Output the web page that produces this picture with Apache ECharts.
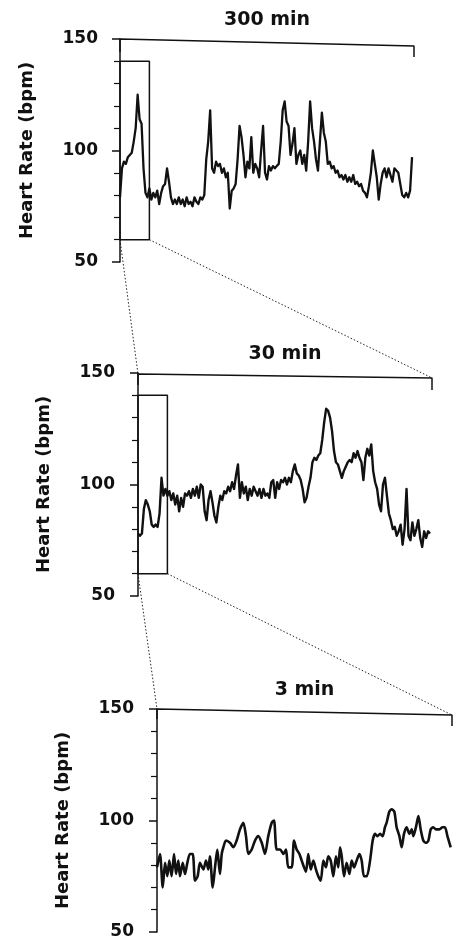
<!DOCTYPE html>
<html><head><meta charset="utf-8">
<script src="https://cdn.jsdelivr.net/npm/echarts@6/dist/echarts.min.js"></script>
<style>html,body{margin:0;padding:0;background:#fff}#c{width:462px;height:943px}</style>
</head><body><div id="c"></div>
<script>
// ---- data ----
const yMin = 50, yMax = 150, yInterval = 50;
const yName = 'Heart Rate (bpm)';
const spanLabels = ['300 min', '30 min', '3 min'];
const spanLengths = [300, 30, 180];           // x-axis span of each panel (min, min, s)

// panel 1: 300 min, one sample every 2 min
const step300 = 2;
const hr300 = [79,92,95,94,97,98,99,104,110,125,114,112,92,81,79,83,78,81,79,82,76,81,84,85,92,86,79,76,78,76,79,76,78,75,79,76,77,75,79,77,76,79,78,80,96,104,118,92,90,95,93,94,90,92,88,90,74,82,83,85,96,111,106,98,88,95,92,106,90,94,92,88,100,111,90,87,93,91,93,92,93,94,104,118,122,113,111,98,103,110,94,98,100,94,98,91,104,122,110,104,96,91,104,117,108,104,94,95,92,93,90,91,88,89,87,89,86,88,86,89,85,86,84,85,82,81,79,84,90,100,94,88,78,85,90,92,88,92,92,86,92,92,90,85,80,79,81,79,82,97];

// panel 2: 30 min, one sample every 0.2 min
const step30 = 0.2;
const hr30 = [78,77,78,89,93,91,88,82,81,82,81,87,103,95,98,95,97,93,96,91,95,88,94,90,96,95,97,94,98,95,99,94,100,99,88,84,93,97,92,86,83,90,95,93,97,96,99,97,101,98,104,109,94,101,96,99,93,98,95,99,97,95,98,94,98,95,96,94,101,102,94,101,98,102,101,103,100,103,101,106,109,105,104,102,98,92,94,99,103,110,112,111,113,114,120,128,134,133,130,124,115,110,109,106,103,106,108,110,111,110,114,112,115,112,110,102,112,116,113,118,106,101,98,91,88,100,103,95,87,84,80,81,77,79,82,73,80,98,77,75,83,77,80,84,76,72,79,76,79,78];

// panel 3: 3 min (seconds)
const sec3 = [0,1.8,3.5,4.9,6.3,7.5,8.9,10.4,11.6,13.0,14.0,15.7,17.1,18.5,20.1,21.8,23.2,24.8,26.2,28.3,29.9,31.3,32.3,34.0,35.4,36.8,38.4,39.5,40.5,42.1,44.5,46.6,48.6,50.6,52.7,54.3,55.7,57.8,59.8,61.8,63.9,65.9,67.9,70.0,71.4,73.0,75.1,77.1,78.7,80.1,82.2,83.6,85.2,86.9,88.3,89.7,90.9,92.3,93.8,95.4,97.0,98.4,99.9,101.5,103.1,104.5,106.0,107.6,109.2,110.6,111.7,112.7,114.1,115.7,117.4,118.8,120.2,121.8,123.5,124.9,126.3,128.0,130.0,131.6,133.0,134.5,136.1,137.7,139.1,140.1,141.8,143.2,144.8,146.2,147.9,149.3,150.7,152.3,154.0,155.4,156.4,158.0,159.5,160.9,162.5,164.1,165.6,167.0,168.6,170.2,172.3,174.3,175.7,177.2,178.4,179.2];
const hr3 = [79,85,70,81,75,82,75,85,76,82,75,81,76,81,85,85,73,75,81,78,82,78,84,70,79,87,76,85,88,91,90,88,91,96,99,93,85,87,91,93,90,85,93,99,100,87,87,85,87,79,79,91,87,85,82,79,77,85,78,82,78,75,73,82,79,84,82,75,84,79,88,84,75,81,76,82,79,82,85,82,75,75,82,91,94,93,94,93,97,99,104,105,104,97,93,88,94,97,94,96,93,97,102,96,91,90,91,96,97,96,96,97,97,93,90,88];

// span brackets (x, bpm) and zoom boxes (x, bpm)
const brackets = [
  [[0,144.2],[0,150],[300,146.9],[300,141.9]],
  [[0,144.6],[0,149.6],[30,147.8],[30,142.4]],
  [[0,145.5],[0,150],[180,147.3],[180,142.4]]
];
const zoomBoxes = [
  [[0,60],[0,140],[30,140],[30,60],[0,60]],
  [[0,60],[0,140],[3,140],[3,60],[0,60]]
];

// ---- chart ----
const FONT = '"DejaVu Sans", "Liberation Sans", sans-serif';
const traces = [
  hr300.map((v,i)=>[i*step300, v]),
  hr30.map((v,i)=>[i*step30, v]),
  hr3.map((v,i)=>[sec3[i], v])
];
const grids = [
  {left:120, top:39,  width:294, height:223},
  {left:138, top:373, width:294, height:223},
  {left:157, top:709, width:295, height:223}
];
const yOffsets = [10, 11, 11];
const traceWidths = [2.3, 2.4, 2.6];

const chart = echarts.init(document.getElementById('c'), null, {renderer:'canvas'});
const series = [];
for (let p=0;p<3;p++){
  series.push({type:'line', xAxisIndex:p, yAxisIndex:p, data:traces[p], showSymbol:false, symbol:'none',
    lineStyle:{color:'#111', width:traceWidths[p], join:'round'}, silent:true, animation:false, clip:false, smooth:p===2?0.25:false});
  series.push({type:'line', xAxisIndex:p, yAxisIndex:p, data:brackets[p], showSymbol:false, symbol:'none',
    lineStyle:{color:'#111', width:1.5}, silent:true, animation:false, clip:false});
  if (p<2) series.push({type:'line', xAxisIndex:p, yAxisIndex:p, data:zoomBoxes[p], showSymbol:false, symbol:'none',
    lineStyle:{color:'#111', width:1.5}, silent:true, animation:false, clip:false});
}
chart.setOption({
  backgroundColor:'#fff',
  animation:false,
  grid: grids,
  xAxis: grids.map((g,i)=>({type:'value', gridIndex:i, min:0, max:spanLengths[i], show:false})),
  yAxis: grids.map((g,i)=>({
    type:'value', gridIndex:i, min:yMin, max:yMax, interval:yInterval, offset:yOffsets[i],
    name:yName, nameLocation:'middle', nameGap:74, nameRotate:90,
    nameTextStyle:{fontFamily:FONT, fontWeight:'bold', fontSize:18, color:'#111'},
    axisLine:{show:true, lineStyle:{color:'#111', width:1.5}},
    axisTick:{show:true, inside:false, length:8, lineStyle:{color:'#111', width:1.5}},
    minorTick:{show:true, splitNumber:5, length:6, lineStyle:{color:'#111', width:1.2}},
    splitLine:{show:false}, minorSplitLine:{show:false},
    axisLabel:{fontFamily:FONT, fontWeight:'bold', fontSize:17, color:'#111', margin:12}
  })),
  series: series
});

// connecting dotted lines + span titles, placed through the axes' own scales
const px = (g, pt) => chart.convertToPixel({gridIndex:g}, pt);
const gfx = [];
for (let p=0;p<2;p++){
  const bl = px(p, zoomBoxes[p][0]);
  const br = px(p, zoomBoxes[p][3]);
  const tl = px(p+1, brackets[p+1][1]);
  const tr = px(p+1, brackets[p+1][2]);
  [[bl,tl],[br,tr]].forEach(([a,b])=>gfx.push({type:'line', silent:true,
    shape:{x1:a[0],y1:a[1],x2:b[0],y2:b[1]},
    style:{stroke:'#222', lineWidth:1, lineDash:[1.5,2]}}));
}
for (let p=0;p<3;p++){
  const a = px(p, brackets[p][1]), b = px(p, brackets[p][2]);
  gfx.push({type:'text', silent:true, x:(a[0]+b[0])/2, y:(a[1]+b[1])/2 - 22,
    style:{text:spanLabels[p], font:'bold 19px '+FONT, fill:'#111', align:'center', verticalAlign:'middle'}});
}
chart.setOption({graphic:gfx});
</script></body></html>
